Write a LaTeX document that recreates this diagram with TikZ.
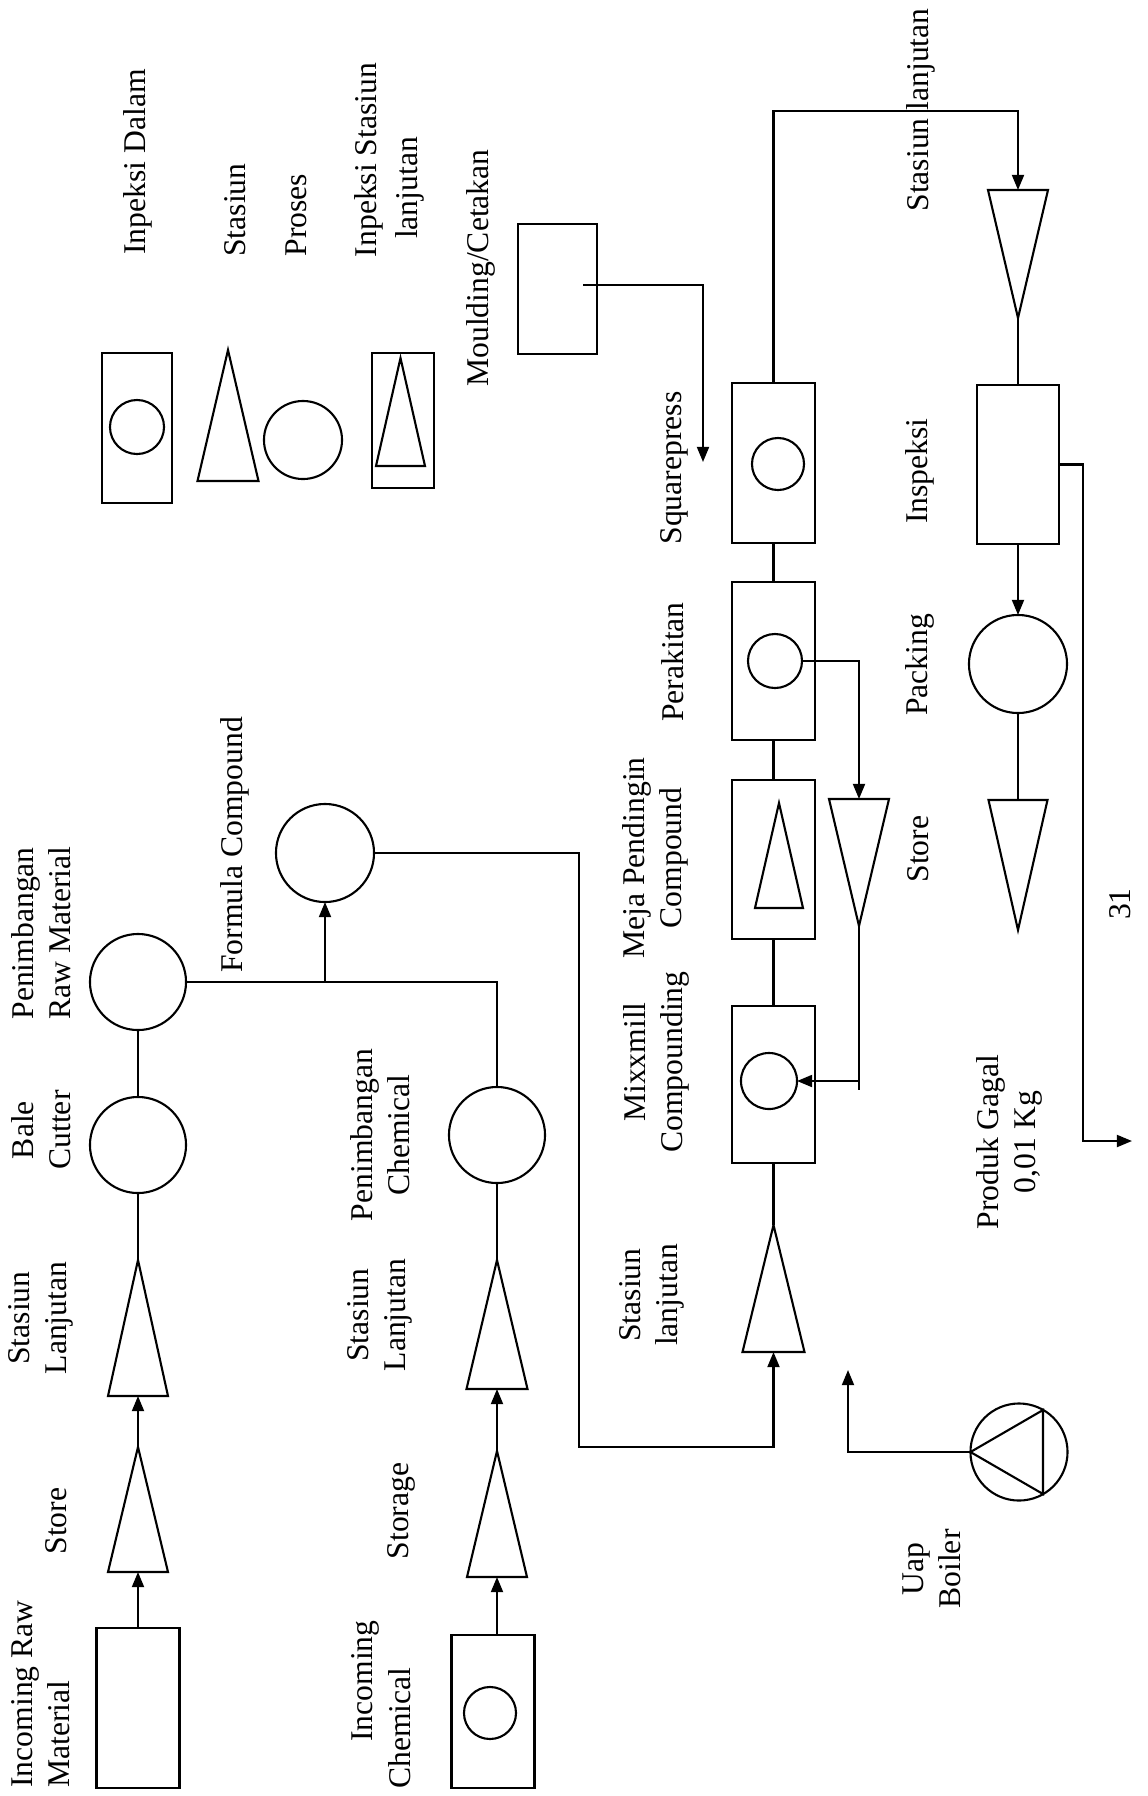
\documentclass[tikz,border=0pt]{standalone}
\usepackage{fontspec}
\setmainfont{Liberation Serif}
\usetikzlibrary{arrows.meta}
\newcommand\mytri[5]{%
  \coordinate (#1-a) at (#2,#3);
  \coordinate (#1-b) at (#2,#4);
  \draw (#2,#3) -- (#2-#5,#4) -- (#2+#5,#4) -- cycle;}
\begin{document}
\begin{tikzpicture}[x=0.01cm,y=-0.01cm,
  line width=0.6pt,
  >={Triangle[length=4.3pt,width=3.4pt]},
  box/.style={draw,rectangle,inner sep=0pt,outer sep=0pt},
  circ/.style={draw,circle,inner sep=0pt,outer sep=0pt},
  lbl/.style={rotate=90,inner sep=0pt,font=\fontsize{9}{10.5}\selectfont}]
\fill[white] (0,0) rectangle (1147,1796);
\useasboundingbox (0,0) rectangle (1147,1796);

% ---------- legend ----------
\node[box,minimum width=0.70cm,minimum height=1.50cm] (L1) at (137,428) {};
\node[circ,minimum size=0.54cm] (L1c) at (137,427) {};
\mytri{L2}{228}{350}{481}{30.5}
\node[circ,minimum size=0.78cm] (L3) at (303,440) {};
\node[box,minimum width=0.62cm,minimum height=1.35cm] (L4) at (403,420.5) {};
\mytri{L4t}{400.5}{358}{466}{24.5}
\node[lbl] (tL1) at (137.5,162) {Inpeksi Dalam};
\node[lbl] (tL2) at (235.5,210) {Stasiun};
\node[lbl] (tL3) at (296.5,215) {Proses};
\node[lbl] (tL4a) at (369,160) {Inpeksi Stasiun};
\node[lbl] (tL4b) at (410,188) {lanjutan};

% ---------- moulding ----------
\node[lbl] (tMC) at (481,268) {Moulding/Cetakan};
\node[box,minimum width=0.79cm,minimum height=1.30cm] (MC) at (557.5,289) {};
\coordinate (mcs) at (583,285);
\coordinate (mce) at (703,462);
\draw[->] (mcs) -| (mce);

% ---------- main row ----------
\node[box,minimum width=0.83cm,minimum height=1.60cm] (SQ) at (773.5,463) {};
\node[circ,minimum size=0.52cm] (SQc) at (778,464) {};
\node[box,minimum width=0.83cm,minimum height=1.58cm] (PK) at (773.5,661) {};
\node[circ,minimum size=0.54cm] (PKc) at (775,661) {};
\node[box,minimum width=0.83cm,minimum height=1.59cm] (MJ) at (773.5,859.5) {};
\mytri{MJt}{779}{803}{908}{24}
\node[box,minimum width=0.83cm,minimum height=1.57cm] (MX) at (773.5,1084.5) {};
\node[circ,minimum size=0.56cm] (MXc) at (769,1081) {};
\mytri{SL}{773.5}{1225}{1352}{31}
\draw (SQ.south) -- (PK.north);
\draw (PK.south) -- (MJ.north);
\draw (MJ.south) -- (MX.north);
\draw (MX.south) -- (SL-a);

\node[lbl] (tSQ) at (674,468) {Squarepress};
\node[lbl] (tPK) at (673,662) {Perakitan};
\node[lbl,align=center] (tMJ) at (655.5,858) {Meja Pendingin\\Compound};
\node[lbl,align=center] (tMX) at (656.5,1062) {Mixxmill\\Compounding};
\node[lbl,align=center] (tSL) at (652,1295) {Stasiun\\lanjutan};

% ---------- right column ----------
\mytri{TS}{1018}{318}{190}{30}
\draw[->] (SQ.north) -- ++(0,-272) -| (TS-b);
\node[box,minimum width=0.82cm,minimum height=1.59cm] (IN) at (1018,464.5) {};
\draw (TS-a) -- (IN.north);
\node[circ,minimum size=0.98cm] (PA) at (1018,664) {};
\draw[->] (IN.south) -- (PA.north);
\mytri{RS}{1018}{930}{800}{29.5}
\draw (PA.south) -- (RS-b);
\coordinate (rej) at (1132,1141);
\draw[->] (IN.east) -- ++(24,0) |- (rej);

\mytri{LS}{859}{926}{799}{30}
\draw[->] (PKc.east) -| (LS-b);
\draw (LS-a) -- ++(0,164);
\draw[->] (LS-a |- MXc.east) -- (MXc.east);

\node[lbl] (tTS) at (920.5,110) {Stasiun lanjutan};
\node[lbl] (tIN) at (920,471) {Inspeksi};
\node[lbl] (tPA) at (920,665) {Packing};
\node[lbl] (tRS) at (918.5,849) {Store};
\node[lbl] (tpg) at (1120,904) {31};
\node[lbl,align=center] (tPG) at (1009,1142) {Produk Gagal\\0,01 Kg};

% ---------- boiler ----------
\node[circ,minimum size=0.97cm] (BO) at (1019,1452) {};
\draw (BO.west) -- (1043,1410) -- (1043,1494) -- cycle;
\coordinate (steam) at (848,1370);
\draw[->] (BO.west) -| (steam);
\node[lbl,align=center] (tBO) at (932,1569) {Uap\\Boiler};

% ---------- raw material row ----------
\node[box,minimum width=0.83cm,minimum height=1.60cm] (IR) at (138,1708) {};
\mytri{ST1}{138}{1447}{1572}{30}
\mytri{SL1}{138}{1260}{1396}{30}
\node[circ,minimum size=0.96cm] (BC) at (138,1145) {};
\node[circ,minimum size=0.96cm] (PR) at (138,982) {};
\draw[->] (IR.north) -- (ST1-b);
\draw[->] (ST1-a) -- (SL1-b);
\draw (SL1-a) -- (BC.south);
\draw (BC.north) -- (PR.south);

\node[lbl,align=left] (tIR) at (40.5,1694) {Incoming Raw\\Material};
\node[lbl] (tST1) at (56.5,1521) {Store};
\node[lbl,align=center] (tSL1) at (40.5,1318) {Stasiun\\Lanjutan};
\node[lbl,align=center] (tBC) at (41,1130) {Bale\\Cutter};
\node[lbl,align=left] (tPR) at (41,933) {Penimbangan\\Raw Material};

% ---------- chemical row ----------
\node[circ,minimum size=0.98cm] (FC) at (325,853) {};
\node[circ,minimum size=0.96cm] (PC) at (497,1135) {};
\draw (PR.east) -| (PC.north);
\draw[->] (PR.east -| FC.south) -- (FC.south);
\draw[->] (FC.east) -| (579,1447) -| (SL-b);
\mytri{CSL}{497}{1260}{1389}{30.5}
\draw (PC.south) -- (CSL-a);
\mytri{STG}{497}{1451}{1577}{30}
\draw[->] (STG-a) -- (CSL-b);
\node[box,minimum width=0.83cm,minimum height=1.53cm] (IC) at (493,1711.5) {};
\node[circ,minimum size=0.52cm] (ICc) at (490,1713) {};
\draw[->] (STG-b |- IC.north) -- (STG-b);

\node[lbl] (tFC) at (234.5,845) {Formula Compound};
\node[lbl,align=center] (tPC) at (380,1135) {Penimbangan\\Chemical};
\node[lbl,align=center] (tCSL) at (380,1315) {Stasiun\\Lanjutan};
\node[lbl] (tSTG) at (401.5,1511) {Storage};
\node[lbl] (tIC1) at (365.5,1681) {Incoming};
\node[lbl] (tIC2) at (400,1728) {Chemical};
\end{tikzpicture}
\end{document}
